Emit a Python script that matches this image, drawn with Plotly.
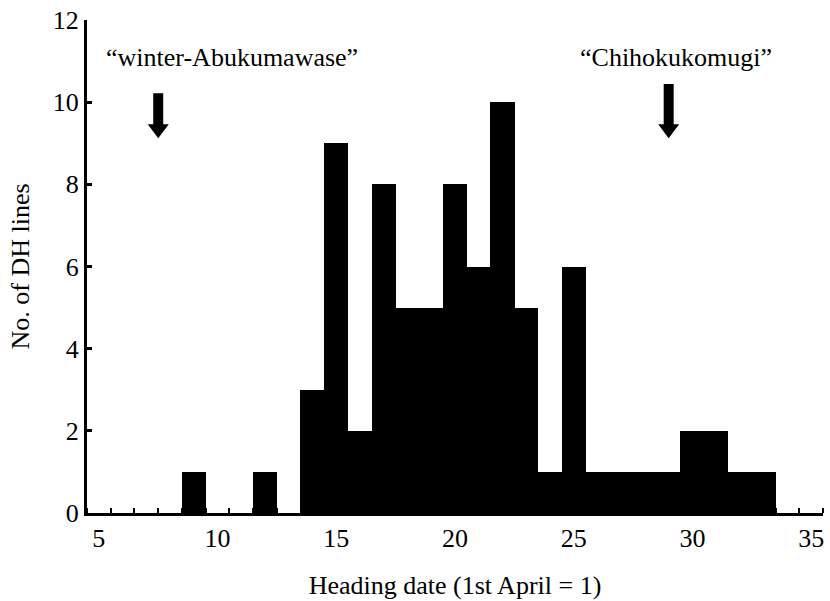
import plotly.graph_objects as go

# Data
heading_day = [9, 12, 14, 15, 16, 17, 18, 19, 20, 21, 22, 23, 24, 25, 26, 27, 28, 29, 30, 31, 32, 33]
n_lines = [1, 1, 3, 9, 2, 8, 5, 5, 8, 6, 10, 5, 1, 6, 1, 1, 1, 1, 2, 2, 1, 1]
x_tick_vals = [5, 10, 15, 20, 25, 30, 35]
y_tick_vals = [0, 2, 4, 6, 8, 10, 12]

cultivar_names = ["\u201cwinter-Abukumawase\u201d", "\u201cChihokukomugi\u201d"]
cultivar_day = [7.5, 29]
arrow_top = [10.22, 10.44]
arrow_tip = [9.12, 9.12]
label_x = [5.2, 29.3]

FONT = "Liberation Serif"

fig = go.Figure()
fig.add_trace(go.Bar(
    x=heading_day, y=n_lines, width=1.02,
    marker=dict(color="black", line=dict(color="black", width=0)),
    showlegend=False,
))

# block arrows (sizes in axis units derived from pixel sizes)
px_x = 736 / 31.0
px_y = 493 / 12.0
shaft_hw = 5 / px_x
head_hw = 10.5 / px_x
head_h = 14 / px_y
for cx, top, tip in zip(cultivar_day, arrow_top, arrow_tip):
    hb = tip + head_h
    path = (f"M {cx - shaft_hw} {top} L {cx + shaft_hw} {top} L {cx + shaft_hw} {hb} "
            f"L {cx + head_hw} {hb} L {cx} {tip} L {cx - head_hw} {hb} L {cx - shaft_hw} {hb} Z")
    fig.add_shape(type="path", path=path, xref="x", yref="y",
                  fillcolor="black", line=dict(color="black", width=0))

fig.add_annotation(x=label_x[0], y=11.08, text=cultivar_names[0], showarrow=False,
                   xanchor="left", yanchor="middle", font=dict(size=26, color="black", family=FONT))
fig.add_annotation(x=label_x[1], y=11.08, text=cultivar_names[1], showarrow=False,
                   xanchor="center", yanchor="middle", font=dict(size=26, color="black", family=FONT))

fig.update_layout(
    width=830, height=601,
    margin=dict(l=87, r=7, t=20, b=88, autoexpand=False),
    paper_bgcolor="white", plot_bgcolor="white",
    font=dict(family=FONT, size=26, color="black"),
    bargap=0,
    xaxis=dict(
        range=[4.5, 35.5], tickvals=x_tick_vals, ticks="", showgrid=False, zeroline=False,
        showline=True, linecolor="black", linewidth=3, automargin=False,
        minor=dict(tick0=0.5, dtick=1, ticks="inside", ticklen=5, tickwidth=2,
                   tickcolor="black", showgrid=False),
        title=dict(text="Heading date (1st April = 1)", standoff=24,
                   font=dict(size=26, family=FONT)),
        tickfont=dict(size=26, family=FONT),
    ),
    yaxis=dict(
        range=[0, 12], tickvals=y_tick_vals, ticks="inside", ticklen=5, tickwidth=3,
        tickcolor="black", showgrid=False, zeroline=False, automargin=False,
        showline=True, linecolor="black", linewidth=3,
        title=dict(text="No. of DH lines", standoff=16, font=dict(size=26, family=FONT)),
        tickfont=dict(size=26, family=FONT),
    ),
)

fig.write_html("out.html", config={"displayModeBar": False},
               post_script="document.body.style.margin='0';")
